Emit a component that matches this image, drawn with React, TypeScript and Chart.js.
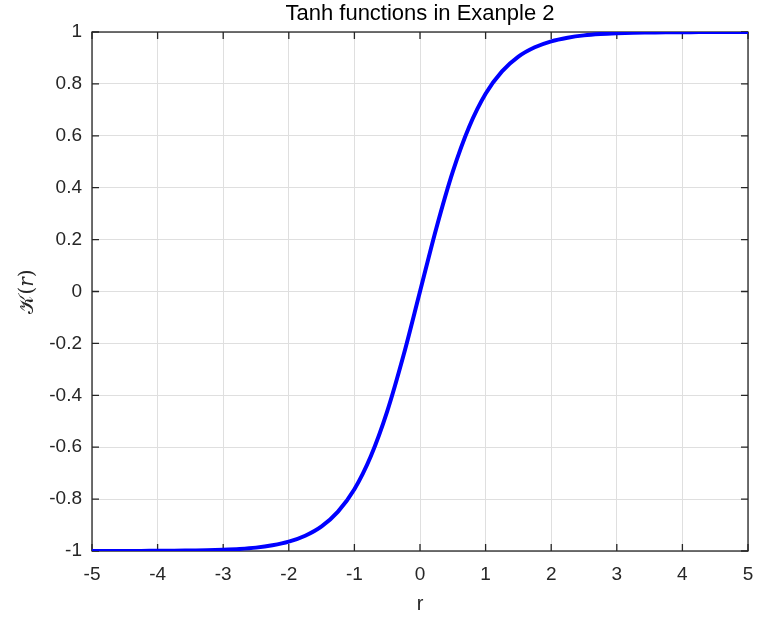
import React, { useEffect, useRef } from "react";
import { Chart, registerables } from "chart.js";

Chart.register(...registerables);

const rValues = [
  -5, -4.75, -4.5, -4.25, -4, -3.75, -3.5, -3.25, -3, -2.75, -2.5, -2.25, -2, -1.75, -1.5, -1.25, -1,
  -0.75, -0.5, -0.25, 0, 0.25, 0.5, 0.75, 1, 1.25, 1.5, 1.75, 2, 2.25, 2.5, 2.75, 3, 3.25, 3.5, 3.75,
  4, 4.25, 4.5, 4.75, 5,
];
const kValues = [
  -1.0, -1.0, -1.0, -1.0, -0.999, -0.999, -0.998, -0.997, -0.995, -0.992, -0.987, -0.978, -0.964,
  -0.941, -0.905, -0.848, -0.762, -0.635, -0.462, -0.245, 0, 0.245, 0.462, 0.635, 0.762, 0.848, 0.905,
  0.941, 0.964, 0.978, 0.987, 0.992, 0.995, 0.997, 0.998, 0.999, 0.999, 1.0, 1.0, 1.0, 1.0,
];
const xTicks = [-5, -4, -3, -2, -1, 0, 1, 2, 3, 4, 5];
const xTickLabels = ["-5", "-4", "-3", "-2", "-1", "0", "1", "2", "3", "4", "5"];
const yTicks = [-1, -0.8, -0.6, -0.4, -0.2, 0, 0.2, 0.4, 0.6, 0.8, 1];
const yTickLabels = ["-1", "-0.8", "-0.6", "-0.4", "-0.2", "0", "0.2", "0.4", "0.6", "0.8", "1"];

const titleText = "Tanh functions in Exanple 2";
const xTitle = "r";
const yTitle = "𝒦(𝑟)";

const AXIS = "#262626";
const FONT = "'Liberation Sans', Arial, Helvetica, sans-serif";

const framePlugin = {
  id: "frameTicks",
  beforeDatasetsDraw(chart: any) {
    const { ctx, chartArea } = chart;
    const { left, right, top, bottom } = chartArea;
    const xs = chart.scales.x;
    const ys = chart.scales.y;
    const len = 7;
    ctx.save();
    ctx.strokeStyle = AXIS;
    ctx.lineWidth = 1.3;
    ctx.beginPath();
    xTicks.forEach((v) => {
      const px = xs.getPixelForValue(v);
      ctx.moveTo(px, bottom);
      ctx.lineTo(px, bottom - len);
      ctx.moveTo(px, top);
      ctx.lineTo(px, top + len);
    });
    yTicks.forEach((v) => {
      const py = ys.getPixelForValue(v);
      ctx.moveTo(left, py);
      ctx.lineTo(left + len, py);
      ctx.moveTo(right, py);
      ctx.lineTo(right - len, py);
    });
    ctx.stroke();
    ctx.strokeRect(left, top, right - left, bottom - top);
    ctx.restore();
  },
  afterDraw(chart: any) {
    const { ctx, chartArea } = chart;
    ctx.save();
    ctx.fillStyle = "#000";
    ctx.font = `22px ${FONT}`;
    ctx.textAlign = "center";
    ctx.textBaseline = "middle";
    ctx.fillText(titleText, (chartArea.left + chartArea.right) / 2, 14);
    ctx.restore();
  },
};

export default function App() {
  const ref = useRef<HTMLCanvasElement | null>(null);
  useEffect(() => {
    if (!ref.current) return;
    const chart = new Chart(ref.current, {
      type: "line",
      data: {
        datasets: [
          {
            data: rValues.map((r, i) => ({ x: r, y: kValues[i] })),
            borderColor: "#0000ff",
            borderWidth: 4,
            pointRadius: 0,
            cubicInterpolationMode: "monotone",
            fill: false,
          },
        ],
      },
      options: {
        animation: false,
        responsive: true,
        maintainAspectRatio: false,
        layout: { padding: { left: 0, right: 20, top: 32, bottom: 0 } },
        plugins: {
          legend: { display: false },
          tooltip: { enabled: false },
          title: { display: false },
        },
        scales: {
          x: {
            type: "linear",
            min: -5,
            max: 5,
            afterBuildTicks: (s: any) => {
              s.ticks = xTicks.map((v) => ({ value: v }));
            },
            afterFit: (s: any) => {
              s.height = 67;
            },
            ticks: {
              color: AXIS,
              font: { family: FONT, size: 19 },
              padding: 12,
              maxRotation: 0,
              autoSkip: false,
              callback: (v: any) => xTickLabels[xTicks.indexOf(Number(v))] ?? "",
            },
            grid: { color: "#dfdfdf", lineWidth: 1, drawTicks: false },
            border: { display: false },
            title: {
              display: true,
              text: xTitle,
              color: AXIS,
              font: { family: FONT, size: 20 },
              padding: { top: 0, bottom: 2 },
            },
          },
          y: {
            type: "linear",
            min: -1,
            max: 1,
            afterBuildTicks: (s: any) => {
              s.ticks = yTicks.map((v) => ({ value: v }));
            },
            afterFit: (s: any) => {
              s.width = 92;
            },
            ticks: {
              color: AXIS,
              font: { family: FONT, size: 19 },
              padding: 10,
              autoSkip: false,
              callback: (v: any) => {
                const i = yTicks.findIndex((t) => Math.abs(t - Number(v)) < 1e-9);
                return i >= 0 ? yTickLabels[i] : "";
              },
            },
            grid: { color: "#dfdfdf", lineWidth: 1, drawTicks: false },
            border: { display: false },
            title: {
              display: true,
              text: yTitle,
              color: AXIS,
              font: { family: "'DejaVu Serif', 'DejaVu Sans', serif", size: 20 },
              padding: { top: 16, bottom: 0 },
            },
          },
        },
      },
      plugins: [framePlugin],
    } as any);
    return () => chart.destroy();
  }, []);
  return (
    <div style={{ position: "absolute", left: 0, top: 0, width: 768, height: 618, background: "#fff" }}>
      <canvas ref={ref} />
    </div>
  );
}
